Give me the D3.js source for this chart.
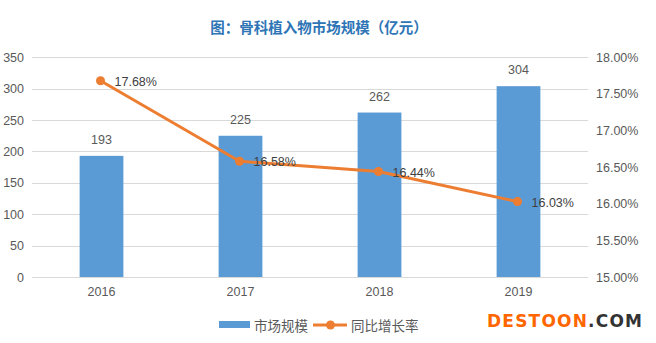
<!DOCTYPE html>
<html><head><meta charset="utf-8">
<script src="https://cdn.jsdelivr.net/npm/d3@7"></script>
<style>body{margin:0;background:#fff;}svg{display:block;}</style>
</head><body>
<svg id="c" width="656" height="343"></svg>
<script>
const years = ["2016","2017","2018","2019"];
const marketSize = [193,225,262,304];
const growthRate = [17.68,16.58,16.44,16.03];
const leftTicks = [0,50,100,150,200,250,300,350];
const rightTicks = [15.0,15.5,16.0,16.5,17.0,17.5,18.0];
const titleText = "图：骨科植入物市场规模（亿元）";
const legendNames = ["市场规模","同比增长率"];

const svg = d3.select("#c");
const font = "Liberation Sans, Arial, 'Noto Sans CJK SC', sans-serif";
const cjk = "'Noto Sans CJK SC', sans-serif";
const L = 32, R = 588, T = 57.3, B = 277;
const x = d3.scaleBand().domain(years).range([L,R]).padding(0);
const yL = d3.scaleLinear().domain([0,350]).range([B,T]);
const yR = d3.scaleLinear().domain([15,18]).range([B,T]);

// title
svg.append("text").attr("x",319).attr("y",26).attr("text-anchor","middle")
  .attr("dominant-baseline","central").attr("font-family",cjk).attr("font-weight","bold")
  .attr("font-size",14.5).attr("fill","#2E75B6").text(titleText);

// grid
svg.append("g").selectAll("line").data(leftTicks).join("line")
  .attr("x1",L).attr("x2",R).attr("y1",d=>Math.round(yL(d))+0.5).attr("y2",d=>Math.round(yL(d))+0.5)
  .attr("stroke","#D9D9D9").attr("stroke-width",1);

// left axis
const gl = svg.append("g").attr("transform",`translate(${L-8},0)`)
  .call(d3.axisLeft(yL).tickValues(leftTicks).tickSize(0).tickPadding(0));
gl.select(".domain").remove();
gl.selectAll("text").attr("font-family",font).attr("font-size",12.5).attr("fill","#595959");

// right axis
const gr = svg.append("g").attr("transform",`translate(${R+8},0)`)
  .call(d3.axisRight(yR).tickValues(rightTicks).tickSize(0).tickPadding(0).tickFormat(d=>d.toFixed(2)+"%"));
gr.select(".domain").remove();
gr.selectAll("text").attr("font-family",font).attr("font-size",12.5).attr("fill","#595959");

// x axis
const gx = svg.append("g").attr("transform",`translate(0,${B+10})`)
  .call(d3.axisBottom(x).tickSize(0).tickPadding(0));
gx.select(".domain").remove();
gx.selectAll("text").attr("font-family",font).attr("font-size",12.5).attr("fill","#595959");

// bars
const bw = x.bandwidth()*0.315;
svg.append("g").selectAll("rect").data(years).join("rect")
  .attr("x",d=>x(d)+x.bandwidth()/2-bw/2).attr("width",bw)
  .attr("y",(d,i)=>yL(marketSize[i])).attr("height",(d,i)=>B-yL(marketSize[i]))
  .attr("fill","#5B9BD5");
svg.append("g").selectAll("text").data(years).join("text")
  .attr("x",d=>x(d)+x.bandwidth()/2).attr("y",(d,i)=>yL(marketSize[i])-16)
  .attr("text-anchor","middle").attr("dominant-baseline","central")
  .attr("font-family",font).attr("font-size",12.5).attr("fill","#595959")
  .text((d,i)=>marketSize[i]);

// line
const cx = d=>x(d)+x.bandwidth()/2-1;
const line = d3.line().x((d,i)=>cx(years[i])).y(d=>yR(d));
svg.append("path").datum(growthRate).attr("d",line).attr("fill","none")
  .attr("stroke","#ED7D31").attr("stroke-width",3).attr("stroke-linejoin","round");
svg.append("g").selectAll("circle").data(growthRate).join("circle")
  .attr("cx",(d,i)=>cx(years[i])).attr("cy",d=>yR(d)).attr("r",4.5).attr("fill","#ED7D31");
svg.append("g").selectAll("text").data(growthRate).join("text")
  .attr("x",(d,i)=>cx(years[i])+14).attr("y",d=>yR(d)+1)
  .attr("dominant-baseline","central")
  .attr("font-family",font).attr("font-size",12.5).attr("fill","#404040")
  .text(d=>d.toFixed(2)+"%");

// legend
const lg = svg.append("g");
lg.append("rect").attr("x",219).attr("y",321).attr("width",31).attr("height",7).attr("fill","#5B9BD5");
lg.append("text").attr("x",254).attr("y",325).attr("dominant-baseline","central")
  .attr("font-family",cjk).attr("font-size",13.5).attr("fill","#595959").text(legendNames[0]);
lg.append("line").attr("x1",313).attr("x2",347).attr("y1",325).attr("y2",325)
  .attr("stroke","#ED7D31").attr("stroke-width",3);
lg.append("circle").attr("cx",330.5).attr("cy",325).attr("r",4.5).attr("fill","#ED7D31");
lg.append("text").attr("x",351).attr("y",325).attr("dominant-baseline","central")
  .attr("font-family",cjk).attr("font-size",13.5).attr("fill","#595959").text(legendNames[1]);

// watermark
const wm = svg.append("text").attr("x",487).attr("y",321).attr("dominant-baseline","central")
  .attr("font-family","DejaVu Sans, sans-serif").attr("font-weight","bold").attr("font-size",17)
  .attr("textLength",155).attr("lengthAdjust","spacing");
wm.append("tspan").attr("fill","#FF6600").text("DESTOON");
wm.append("tspan").attr("fill","#333333").text(".COM");
</script>
</body></html>
